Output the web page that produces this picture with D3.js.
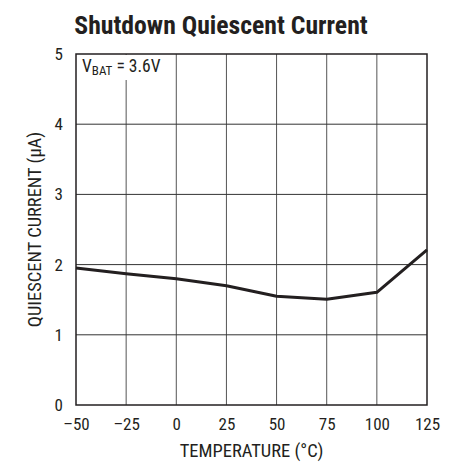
<!DOCTYPE html>
<html>
<head>
<meta charset="utf-8">
<script src="https://cdn.jsdelivr.net/npm/d3@7"></script>
<style>
  body { margin: 0; background: #fff; }
  svg { display: block; }
  text { font-family: "Roboto Condensed", "Liberation Sans Narrow", "Liberation Sans", sans-serif; fill: #231f20; }
</style>
</head>
<body>
<div id="chart"></div>
<script>
  'use strict';

  // temperature (°C) vs shutdown quiescent current (µA)
  var temps = [-50, -25, 0, 25, 50, 75, 100, 125];
  var current = [1.95, 1.87, 1.80, 1.70, 1.55, 1.505, 1.605, 2.21];
  var xTicks = [-50, -25, 0, 25, 50, 75, 100, 125];
  var yTicks = [0, 1, 2, 3, 4, 5];

  var svg = d3.select('#chart')
    .append('svg')
    .attr('width', 453)
    .attr('height', 462);

  var margin = { top: 54, right: 26, bottom: 57, left: 76 };
  var width = 453 - margin.left - margin.right;
  var height = 462 - margin.top - margin.bottom;

  var x = d3.scaleLinear().domain([-50, 125]).range([0, width]);
  var y = d3.scaleLinear().domain([0, 5]).range([height, 0]);

  var g = svg.append('g')
    .attr('transform', 'translate(' + margin.left + ',' + margin.top + ')');

  // title
  svg.append('text')
    .attr('x', 221)
    .attr('y', 34)
    .attr('text-anchor', 'middle')
    .style('font-size', '25.7px')
    .style('font-weight', 'bold')
    .text('Shutdown Quiescent Current');

  // grid
  g.selectAll('.vgrid')
    .data(xTicks.slice(1, -1))
    .enter().append('line')
    .attr('class', 'vgrid')
    .attr('x1', function(d) { return x(d); })
    .attr('x2', function(d) { return x(d); })
    .attr('y1', 0)
    .attr('y2', height)
    .attr('stroke', '#555')
    .attr('stroke-width', 1);

  g.selectAll('.hgrid')
    .data(yTicks.slice(1, -1))
    .enter().append('line')
    .attr('class', 'hgrid')
    .attr('x1', 0)
    .attr('x2', width)
    .attr('y1', function(d) { return y(d); })
    .attr('y2', function(d) { return y(d); })
    .attr('stroke', '#333')
    .attr('stroke-width', 1);

  // label box (hides the grid behind it)
  g.append('rect')
    .attr('x', 1)
    .attr('y', 1)
    .attr('width', 92)
    .attr('height', 25)
    .attr('fill', '#fff');

  var lbl = g.append('text')
    .attr('x', 6)
    .attr('y', 18)
    .style('font-size', '17.5px');
  lbl.append('tspan').text('V');
  lbl.append('tspan').attr('dy', 3).style('font-size', '13px').text('BAT');
  lbl.append('tspan').attr('dy', -3).text(' = 3.6V');

  // frame
  g.append('rect')
    .attr('width', width)
    .attr('height', height)
    .attr('fill', 'none')
    .attr('stroke', '#231f20')
    .attr('stroke-width', 1.5);

  // axes tick labels
  var xAxis = d3.axisBottom(x).tickValues(xTicks).tickSize(0).tickPadding(13)
    .tickFormat(function(d) { return d < 0 ? '\u2013' + Math.abs(d) : d; });
  var yAxis = d3.axisLeft(y).tickValues(yTicks).tickSize(0).tickPadding(13)
    .tickFormat(d3.format('d'));

  g.append('g')
    .attr('class', 'x axis')
    .attr('transform', 'translate(0,' + height + ')')
    .call(xAxis)
    .call(function(s) { s.select('.domain').remove(); })
    .selectAll('text')
      .style('font-size', '17px')
      .attr('fill', '#231f20');

  g.append('g')
    .attr('class', 'y axis')
    .call(yAxis)
    .call(function(s) { s.select('.domain').remove(); })
    .selectAll('text')
      .style('font-size', '17px')
      .attr('fill', '#231f20');

  g.selectAll('.axis').attr('font-family', null).attr('font-size', null);

  // axis titles
  svg.append('text')
    .attr('x', margin.left + width / 2)
    .attr('y', 457)
    .attr('text-anchor', 'middle')
    .style('font-size', '18.5px')
    .text('TEMPERATURE (\u00b0C)');

  svg.append('text')
    .attr('transform', 'translate(41,' + (margin.top + height / 2) + ') rotate(-90)')
    .attr('text-anchor', 'middle')
    .style('font-size', '18.5px')
    .text('QUIESCENT CURRENT (\u00b5A)');

  // data line
  var line = d3.line()
    .x(function(d, i) { return x(temps[i]); })
    .y(function(d) { return y(d); });

  g.append('path')
    .datum(current)
    .attr('d', line)
    .attr('fill', 'none')
    .attr('stroke', '#231f20')
    .attr('stroke-width', 3)
    .attr('stroke-linejoin', 'round');
</script>
</body>
</html>
